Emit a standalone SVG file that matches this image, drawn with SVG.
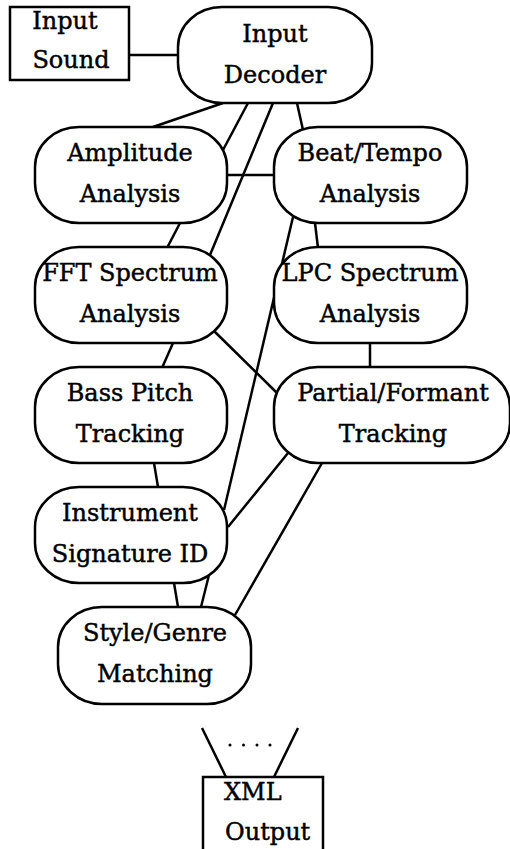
<svg xmlns="http://www.w3.org/2000/svg" width="510" height="849" viewBox="0 0 510 849">
<style>
.n{fill:#fff;stroke:#000;stroke-width:2.5}
.c line{stroke:#000;stroke-width:2.5}
text{font-family:"DejaVu Serif","Liberation Serif",serif;font-size:24px;fill:#000;stroke:#000;stroke-width:0.45;text-anchor:middle}
.l{text-anchor:start}
</style>
<rect width="510" height="849" fill="#fff"/>
<g class="c" id="connectors">
<line x1="129" y1="55" x2="178" y2="55"/>
<line x1="223" y1="103" x2="153" y2="127"/>
<line x1="248" y1="103" x2="223" y2="150"/>
<line x1="273" y1="103" x2="210" y2="255"/>
<line x1="297" y1="103" x2="303" y2="130"/>
<line x1="227" y1="175" x2="274" y2="175"/>
<line x1="180" y1="223" x2="167" y2="248"/>
<line x1="293" y1="217" x2="224" y2="510"/>
<line x1="315" y1="223" x2="318" y2="248"/>
<line x1="370" y1="343" x2="370" y2="367"/>
<line x1="173" y1="343" x2="162" y2="368"/>
<line x1="213" y1="330" x2="277" y2="393"/>
<line x1="288" y1="453" x2="228" y2="527"/>
<line x1="322" y1="463" x2="235" y2="615"/>
<line x1="154" y1="463" x2="158" y2="487"/>
<line x1="174" y1="583" x2="178" y2="607"/>
<line x1="209" y1="575" x2="201" y2="607"/>
<line x1="202" y1="728" x2="226" y2="777"/>
<line x1="298" y1="728" x2="274" y2="777"/>
</g>
<g id="input-sound"><rect class="n" x="10" y="7" width="119" height="73"/><text x="65" y="29">Input</text><text x="71" y="68">Sound</text></g>
<g id="input-decoder"><rect class="n" x="178" y="7" width="194" height="96" rx="44" ry="40"/><text x="275" y="42">Input</text><text x="275" y="83">Decoder</text></g>
<g id="amplitude"><rect class="n" x="35" y="127" width="192" height="96" rx="44" ry="40"/><text x="130" y="161">Amplitude</text><text x="130" y="202">Analysis</text></g>
<g id="beat-tempo"><rect class="n" x="274" y="127" width="193" height="96" rx="44" ry="40"/><text x="370" y="161">Beat/Tempo</text><text x="370" y="202">Analysis</text></g>
<g id="fft"><rect class="n" x="35" y="247" width="192" height="96" rx="44" ry="40"/><text x="130" y="281">FFT Spectrum</text><text x="130" y="322">Analysis</text></g>
<g id="lpc"><rect class="n" x="274" y="247" width="193" height="96" rx="44" ry="40"/><text x="370" y="281">LPC Spectrum</text><text x="370" y="322">Analysis</text></g>
<g id="bass-pitch"><rect class="n" x="35" y="367" width="192" height="96" rx="44" ry="40"/><text x="130" y="401">Bass Pitch</text><text x="130" y="442">Tracking</text></g>
<g id="partial-formant"><rect class="n" x="274" y="367" width="236" height="96" rx="44" ry="40"/><text x="393" y="401">Partial/Formant</text><text x="393" y="442">Tracking</text></g>
<g id="instrument"><rect class="n" x="35" y="487" width="192" height="96" rx="44" ry="40"/><text x="130" y="521">Instrument</text><text x="130" y="562">Signature ID</text></g>
<g id="style-genre"><rect class="n" x="58" y="607" width="193" height="97" rx="44" ry="40"/><text x="155" y="641">Style/Genre</text><text x="155" y="682">Matching</text></g>
<g id="xml-output"><rect class="n" x="203" y="777" width="120" height="80"/><text class="l" x="224" y="800">XML</text><text class="l" x="225" y="840">Output</text></g>
<g id="dots"><circle cx="230" cy="745" r="1.5"/><circle cx="243.5" cy="745" r="1.5"/><circle cx="257" cy="745" r="1.5"/><circle cx="270" cy="745" r="1.5"/></g>
</svg>
